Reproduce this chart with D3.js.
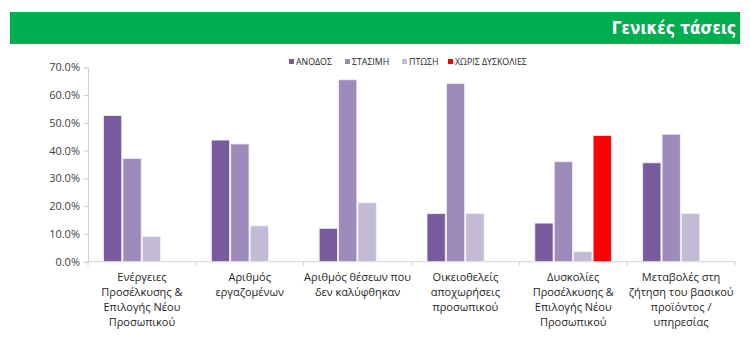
<!DOCTYPE html>
<html><head><meta charset="utf-8">
<script src="https://cdn.jsdelivr.net/npm/d3@7"></script>
<style>
body{margin:0;background:#fff;}
svg{display:block;}
text{font-family:"Open Sans","Noto Sans",sans-serif;}
</style></head>
<body>
<script>
const categories = [
  ["Ενέργειες", "Προσέλκυσης &", "Επιλογής Νέου", "Προσωπικού"],
  ["Αριθμός", "εργαζομένων"],
  ["Αριθμός θέσεων που", "δεν καλύφθηκαν"],
  ["Οικειοθελείς", "αποχωρήσεις", "προσωπικού"],
  ["Δυσκολίες", "Προσέλκυσης &", "Επιλογής Νέου", "Προσωπικού"],
  ["Μεταβολές στη", "ζήτηση του βασικού", "προϊόντος /", "υπηρεσίας"]
];
const seriesNames = ["ΑΝΟΔΟΣ", "ΣΤΑΣΙΜΗ", "ΠΤΩΣΗ", "ΧΩΡΙΣ ΔΥΣΚΟΛΙΕΣ"];
const anodos   = [52.6, 43.8, 12.0, 17.3, 13.9, 35.6];
const stasimi  = [37.2, 42.4, 65.5, 64.2, 36.0, 45.9];
const ptosi    = [9.1, 12.9, 21.2, 17.3, 3.6, 17.3];
const xoris    = [null, null, null, null, 45.4, null];
const yTicks = [0, 10, 20, 30, 40, 50, 60, 70];
const title = "Γενικές τάσεις";
const colors = ["#775b9d", "#9d8bbb", "#c3bad6", "#ff0000"];

(function(){
const W = 750, H = 342;
const svg = d3.select("body").append("svg").attr("width", W).attr("height", H);

// banner
svg.append("rect").attr("x", 10).attr("y", 12).attr("width", 730).attr("height", 32).attr("fill", "#00ae4f");
svg.append("text").attr("x", 736).attr("y", 34).attr("text-anchor", "end")
  .attr("fill", "#fff").attr("font-size", 17).attr("font-weight", "bold")
  .style("font-family", "'DejaVu Sans Condensed','DejaVu Sans',sans-serif")
  .text(title);

const pl = 88, pr = 735, pt = 67.3, pb = 261.7;
const x0 = d3.scaleBand().domain(d3.range(categories.length)).range([pl, pr]).padding(0);
const x1 = d3.scaleBand().domain(d3.range(4)).range([15.5, 92]).paddingInner(0.06);
const y = d3.scaleLinear().domain([0, 70]).range([pb, pt]);

// y axis
const yAxis = d3.axisLeft(y).tickValues(yTicks).tickSize(4).tickFormat(d => d.toFixed(1) + "%");
const yg = svg.append("g").attr("transform", `translate(${pl},0)`).call(yAxis);
yg.select(".domain").attr("stroke", "#d0d0d0");
yg.selectAll(".tick line").attr("stroke", "#d0d0d0");
yg.selectAll(".tick text").attr("font-size", 11).attr("fill", "#404040").attr("x", -8)
  .style("font-family", "'Open Sans',sans-serif");

// x axis
const xg = svg.append("g").attr("transform", `translate(0,${pb})`);
xg.append("line").attr("x1", pl).attr("x2", pr).attr("stroke", "#d0d0d0");
const bounds = d3.range(categories.length + 1).map(i => i < categories.length ? x0(i) : pr);
xg.selectAll("line.tk").data(bounds).join("line").attr("class", "tk")
  .attr("x1", d => d).attr("x2", d => d).attr("y1", 0).attr("y2", 4).attr("stroke", "#d0d0d0");

const series = [anodos, stasimi, ptosi, xoris];
const barData = [];
series.forEach((arr, s) => arr.forEach((v, c) => { if (v != null) barData.push({s, c, v}); }));
svg.append("g").selectAll("rect").data(barData).join("rect")
  .attr("x", d => x0(d.c) + x1(d.s))
  .attr("width", x1.bandwidth())
  .attr("y", d => y(d.v))
  .attr("height", d => pb - y(d.v))
  .attr("fill", d => colors[d.s])
  .attr("stroke", "#f2f0f6").attr("stroke-width", 0.8);

// category labels
const lab = svg.append("g");
categories.forEach((lines, i) => {
  const cx = x0(i) + x0.bandwidth() / 2;
  const t = lab.append("text").attr("text-anchor", "middle").attr("font-size", 11).attr("fill", "#262626").attr("x", cx);
  lines.forEach((l, k) => t.append("tspan").attr("x", cx).attr("y", 281 + k * 15).text(l));
});

// legend
const legX = [289, 345, 402, 448];
const lg = svg.append("g");
seriesNames.forEach((n, i) => {
  lg.append("rect").attr("x", legX[i]).attr("y", 59).attr("width", 5).attr("height", 5).attr("fill", colors[i]);
  lg.append("text").attr("x", legX[i] + 7).attr("y", 65).attr("font-size", 8.8).attr("fill", "#262626").text(n);
});
})();
</script>
</body></html>
